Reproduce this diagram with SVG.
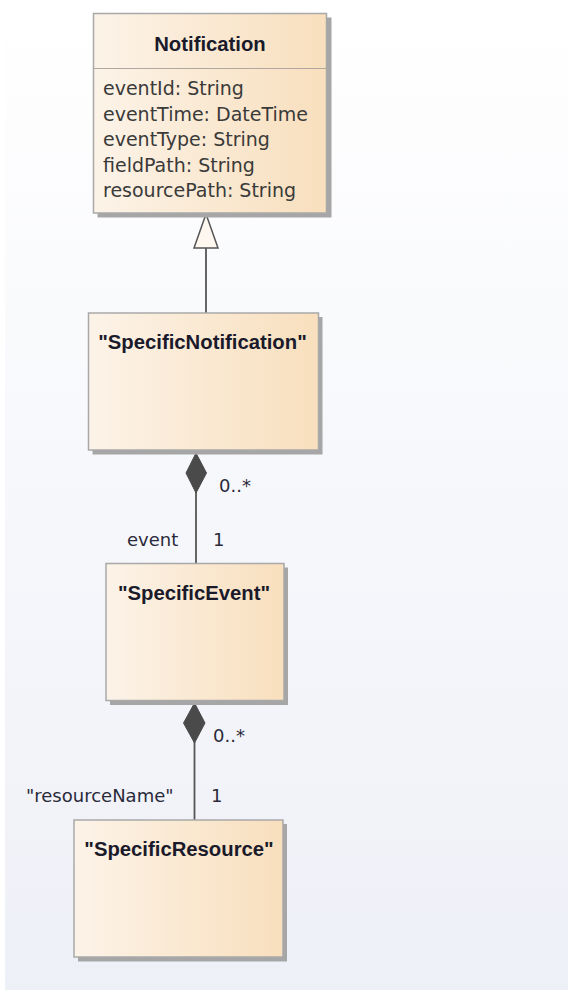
<svg xmlns="http://www.w3.org/2000/svg" width="568" height="991" viewBox="0 0 568 991">
<defs>
<linearGradient id="bg" x1="0" y1="0" x2="0" y2="1">
<stop offset="0" stop-color="#ffffff"/>
<stop offset="1" stop-color="#eef0f7"/>
</linearGradient>
<linearGradient id="box" x1="0" y1="0" x2="1" y2="0">
<stop offset="0" stop-color="#fcf3e8"/>
<stop offset="1" stop-color="#f8dfbd"/>
</linearGradient>
<style>
.shadow{fill:#a6a6a6;}
.box{fill:url(#box);stroke:#a9a9a9;stroke-width:1.5;}
.sep{stroke:#b0a8a0;stroke-width:1.2;}
.title{font-family:"Liberation Sans",Arial,sans-serif;font-weight:bold;font-size:20.3px;fill:#1a1a2a;text-anchor:middle;}
.attr{font-family:"DejaVu Sans","Liberation Sans",sans-serif;font-size:19px;fill:#3a3a3a;}
.lbl{font-family:"DejaVu Sans","Liberation Sans",sans-serif;font-size:18px;fill:#2a2a3a;}
.line{stroke:#555555;stroke-width:1.8;fill:none;}
</style>
</defs>
<rect x="0" y="0" width="568" height="991" fill="#ffffff"/>
<rect x="5" y="0" width="563" height="990" fill="url(#bg)"/>

<g id="connectors">
<line class="line" x1="206" y1="248" x2="206" y2="313"/>
<polygon points="206,214 194,248 218,248" fill="#fdf7ef" stroke="#555555" stroke-width="1.5"/>
<line class="line" x1="196" y1="492" x2="196" y2="563"/>
<polygon points="196,453 186,473 196,493 206.5,473" fill="#4a4a4a" stroke="#4a4a4a" stroke-width="1"/>
<text class="lbl" x="219" y="492">0..*</text>
<text class="lbl" x="127" y="546">event</text>
<text class="lbl" x="213" y="546">1</text>
<line class="line" x1="194.5" y1="742" x2="194.5" y2="820"/>
<polygon points="194.5,703 183.5,723 194.5,743 205,723" fill="#4a4a4a" stroke="#4a4a4a" stroke-width="1"/>
<text class="lbl" x="213" y="742">0..*</text>
<text class="lbl" x="26" y="802">"resourceName"</text>
<text class="lbl" x="211" y="802">1</text>
</g>

<g id="Notification">
<rect class="shadow" x="97.5" y="17.5" width="234" height="200"/>
<rect class="box" x="93.5" y="13.5" width="233" height="199.5"/>
<line class="sep" x1="93.5" y1="68.5" x2="326.5" y2="68.5"/>
<text class="title" x="210" y="51">Notification</text>
<text class="attr" x="103" y="95">eventId: String</text>
<text class="attr" x="103" y="120.5">eventTime: DateTime</text>
<text class="attr" x="103" y="146">eventType: String</text>
<text class="attr" x="103" y="171.5">fieldPath: String</text>
<text class="attr" x="103" y="197">resourcePath: String</text>
</g>

<g id="SpecificNotification">
<rect class="shadow" x="92.5" y="317" width="230" height="137.5"/>
<rect class="box" x="88.5" y="313" width="230" height="137"/>
<text class="title" x="202.5" y="349">"SpecificNotification"</text>
</g>

<g id="SpecificEvent">
<rect class="shadow" x="110" y="567.5" width="178" height="137.5"/>
<rect class="box" x="106" y="563.5" width="178" height="137"/>
<text class="title" x="194" y="600">"SpecificEvent"</text>
</g>

<g id="SpecificResource">
<rect class="shadow" x="78" y="824" width="209" height="137.5"/>
<rect class="box" x="74" y="820" width="209" height="137"/>
<text class="title" x="179" y="856">"SpecificResource"</text>
</g>
</svg>
